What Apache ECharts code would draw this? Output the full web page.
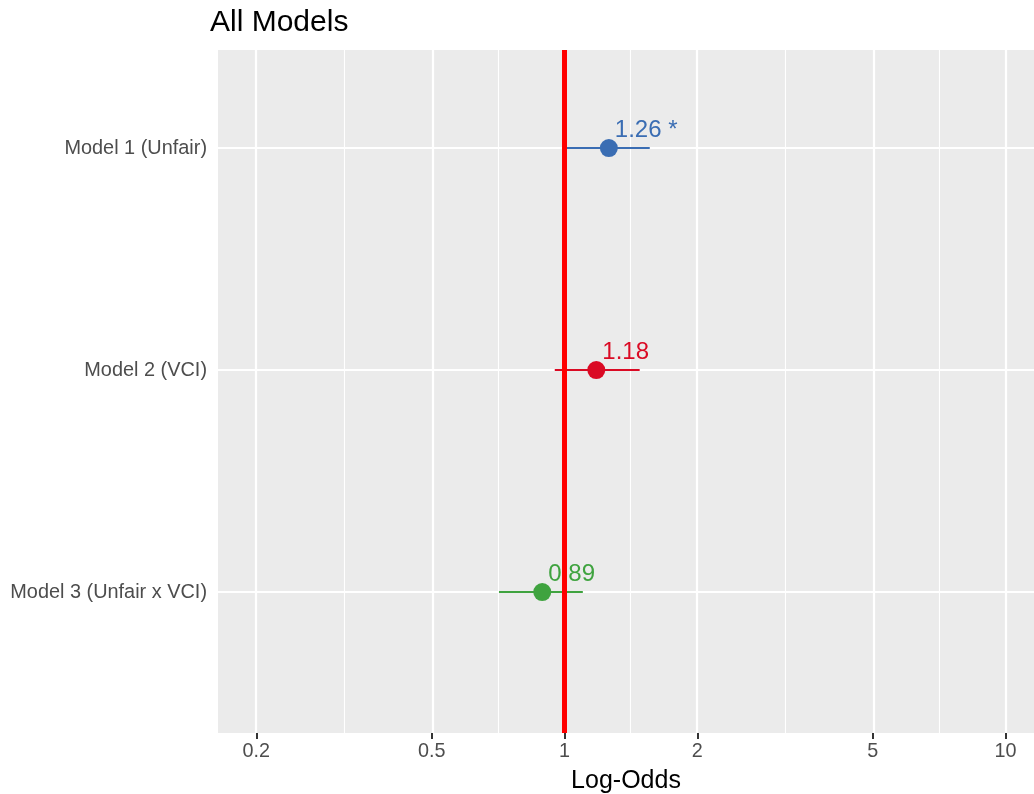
<!DOCTYPE html>
<html>
<head>
<meta charset="utf-8">
<script src="https://cdn.jsdelivr.net/npm/echarts@6.0.0/dist/echarts.min.js"></script>
<style>
  html, body { margin: 0; padding: 0; background: #fff; }
  #chart { width: 1034px; height: 794px; }
</style>
</head>
<body>
<div id="chart"></div>
<script>
// data
const models = ['Model 1 (Unfair)', 'Model 2 (VCI)', 'Model 3 (Unfair x VCI)'];
const estimates = [1.26, 1.18, 0.89];
const lower = [1.01, 0.95, 0.71];
const upper = [1.56, 1.48, 1.10];
const pointLabels = ['1.26 *', '1.18', '0.89'];
const colors = ['#3a6db3', '#da0a24', '#3fa33f'];

// axis breaks (odds scale)
const xTicks = [0.2, 0.5, 1, 2, 5, 10];
const xMinor = [0.316, 0.707, 1.414, 3.162, 7.071];
const xRange = [0.1637, 11.6];

const lg = v => Math.log10(v);
const font = '"Liberation Sans", Arial, Helvetica, sans-serif';

let myChart = echarts.init(document.getElementById('chart'));

let series = [];

// panel grid lines
series.push({
    type: 'scatter',
    data: [],
    z: 1,
    silent: true,
    markLine: {
        z: 1,
        silent: true,
        symbol: 'none',
        animation: false,
        label: {show: false},
        data: [
            ...xMinor.map(v => ({xAxis: lg(v), lineStyle: {color: '#fff', width: 1.1, type: 'solid'}})),
            ...xTicks.map(v => ({xAxis: lg(v), lineStyle: {color: '#fff', width: 2.2, type: 'solid'}})),
            ...models.map((m, i) => ({yAxis: i + 1, lineStyle: {color: '#fff', width: 2.2, type: 'solid'}}))
        ]
    }
});

// confidence intervals
models.forEach((m, i) => {
    series.push({
        type: 'line',
        z: 2,
        symbol: 'none',
        silent: true,
        lineStyle: {color: colors[i], width: 2},
        data: [[lg(lower[i]), i + 1], [lg(upper[i]), i + 1]]
    });
});

// point estimates with labels
models.forEach((m, i) => {
    series.push({
        type: 'scatter',
        z: 3,
        symbolSize: 18,
        itemStyle: {color: colors[i], opacity: 1},
        label: {
            show: true,
            position: [15, -9],
            align: 'left',
            verticalAlign: 'middle',
            formatter: pointLabels[i],
            color: colors[i],
            fontSize: 24,
            fontFamily: font
        },
        data: [[lg(estimates[i]), i + 1]]
    });
});

// reference line at odds = 1
series.push({
    type: 'scatter',
    data: [],
    z: 10,
    markLine: {
        z: 10,
        silent: true,
        symbol: 'none',
        animation: false,
        label: {show: false},
        lineStyle: {color: '#ff0000', width: 5, type: 'solid'},
        data: [{xAxis: lg(1)}]
    }
});

let option = {
    animation: false,
    backgroundColor: '#fff',
    title: {
        text: 'All Models',
        left: 210,
        top: 8,
        padding: 0,
        textStyle: {color: '#000', fontWeight: 'normal', fontSize: 30, fontFamily: font}
    },
    grid: {
        left: 218,
        right: 0,
        top: 50,
        bottom: 61,
        containLabel: false,
        outerBoundsMode: 'none',
        show: true,
        backgroundColor: '#ebebeb',
        borderWidth: 0
    },
    xAxis: {
        type: 'value',
        min: lg(xRange[0]),
        max: lg(xRange[1]),
        name: 'Log-Odds',
        nameLocation: 'middle',
        nameGap: 36,
        nameTextStyle: {color: '#000', fontSize: 25, fontFamily: font},
        axisLine: {show: false},
        splitLine: {show: false},
        axisTick: {
            show: true,
            length: 6,
            lineStyle: {color: '#333', width: 2},
            customValues: xTicks.map(lg)
        },
        axisLabel: {
            color: '#4d4d4d',
            fontSize: 19.8,
            fontFamily: font,
            margin: 9,
            showMinLabel: true,
            showMaxLabel: true,
            customValues: xTicks.map(lg),
            formatter: function (v) {
                let best = xTicks[0];
                xTicks.forEach(t => { if (Math.abs(lg(t) - v) < Math.abs(lg(best) - v)) best = t; });
                return String(best);
            }
        }
    },
    yAxis: {
        type: 'value',
        inverse: true,
        min: 0.558,
        max: 3.635,
        axisLine: {show: false},
        splitLine: {show: false},
        axisTick: {
            show: true,
            length: 6,
            lineStyle: {color: '#333', width: 2},
            customValues: [1, 2, 3]
        },
        axisLabel: {
            color: '#4d4d4d',
            fontSize: 19.9,
            fontFamily: font,
            margin: 11,
            customValues: [1, 2, 3],
            formatter: function (v) {
                return models[Math.round(v) - 1] || '';
            }
        }
    },
    series: series
};

myChart.setOption(option, true);
</script>
</body>
</html>
